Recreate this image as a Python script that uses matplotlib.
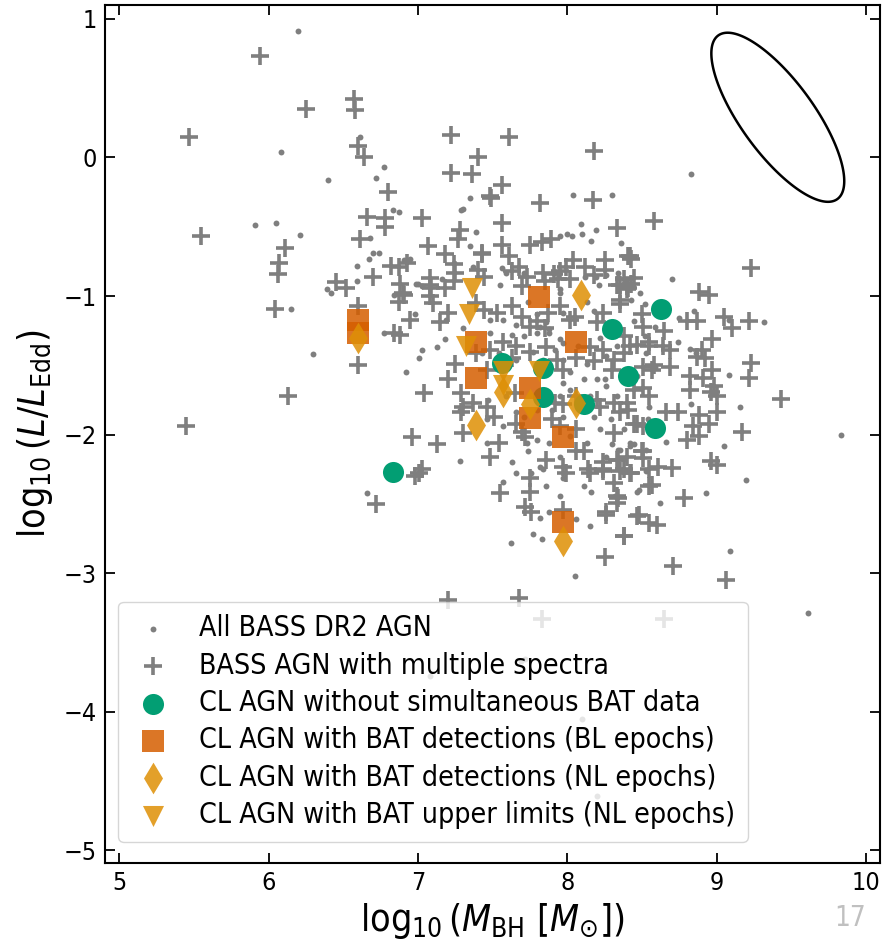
import numpy as np
import matplotlib.pyplot as plt
from matplotlib.patches import Polygon

plt.rcParams['font.family'] = ['DejaVu Sans']
plt.rcParams['font.stretch'] = 'condensed'
plt.rcParams['mathtext.fontset'] = 'custom'
plt.rcParams['mathtext.rm'] = 'DejaVu Sans:stretch=condensed'
plt.rcParams['mathtext.it'] = 'DejaVu Sans:italic:stretch=condensed'
plt.rcParams['mathtext.bf'] = 'DejaVu Sans:bold:stretch=condensed'

# all BASS DR2 AGN: (log M_BH, log L/L_Edd) pairs
dr2 = [
    (6.20, 0.91), (6.08, 0.04), (6.61, 0.15), (6.77, -0.07), (6.40, -0.16), (6.72, -0.15),
    (7.35, -0.29), (5.91, -0.49), (6.05, -0.47), (6.21, -0.56), (6.83, -0.38), (6.87, -0.39),
    (6.68, -0.58), (6.70, -0.69), (6.74, -0.69), (6.67, -0.73), (6.59, -0.78), (6.59, -0.89),
    (6.39, -0.95), (6.42, -0.98), (6.95, -0.73), (6.91, -0.74), (7.29, -0.38), (7.30, -0.37),
    (7.39, -0.54), (7.35, -0.64), (6.99, -0.91), (7.03, -0.93), (7.37, -0.79), (7.24, -0.76),
    (6.15, -1.09), (6.30, -1.42), (8.83, -0.12), (8.04, -0.27), (8.30, -0.27), (8.09, -0.48),
    (8.19, -0.52), (8.10, -0.55), (8.16, -0.60), (8.70, -0.88), (8.36, -0.62), (8.00, -0.55),
    (8.03, -0.57), (7.95, -0.57), (7.56, -0.80), (7.59, -0.83), (7.71, -0.83), (7.55, -0.92),
    (7.95, -0.95), (8.21, -0.92), (8.19, -0.86), (8.34, -0.83), (8.49, -0.98), (8.43, -1.03),
    (8.52, -1.06), (8.75, -1.16), (8.85, -1.11), (9.32, -1.19), (9.08, -1.17), (8.74, -1.33),
    (8.82, -1.38), (8.86, -1.41), (9.08, -1.57), (9.16, -1.80), (8.83, -1.78), (9.83, -2.00),
    (8.66, -2.05), (9.05, -2.08), (8.45, -2.07), (8.34, -2.11), (8.53, -2.26), (9.20, -2.33),
    (8.32, -2.44), (8.93, -2.42), (8.48, -2.40), (8.62, -2.49), (9.09, -2.84), (9.61, -3.29),
    (7.72, -3.62), (7.69, -3.63), (7.08, -3.74), (8.10, -4.05), (8.20, -4.61),
    (7.00, -0.91), (6.84, -0.99), (7.16, -0.88), (7.71, -0.85), (7.95, -0.98), (8.12, -0.86),
    (8.26, -0.85), (6.77, -1.27), (6.98, -1.13), (7.19, -1.17), (7.30, -1.23), (7.48, -1.17),
    (7.57, -1.17), (7.66, -1.21), (7.74, -1.04), (7.80, -1.13), (7.88, -1.24), (7.97, -1.12),
    (7.95, -1.31), (8.13, -1.04), (8.18, -1.11), (8.22, -1.30), (8.45, -1.18), (8.52, -1.29),
    (8.59, -1.22), (7.03, -1.39), (7.01, -1.45), (6.92, -1.55), (7.13, -1.37), (7.18, -1.31),
    (7.66, -1.46), (7.77, -1.40), (7.92, -1.39), (7.97, -1.63), (8.02, -1.55), (8.13, -1.49),
    (8.26, -1.43), (8.33, -1.36), (8.38, -1.58), (8.47, -1.58), (8.53, -1.41), (8.59, -1.51),
    (8.25, -1.60), (8.20, -1.60), (7.28, -1.82), (7.47, -1.75), (7.46, -1.89), (7.59, -1.72),
    (7.66, -1.84), (7.86, -1.75), (7.90, -1.82), (7.97, -1.87), (8.15, -1.72), (8.18, -1.87),
    (8.22, -1.96), (8.29, -1.89), (8.38, -1.96), (8.42, -2.06), (8.54, -1.89), (8.55, -1.80),
    (7.28, -2.19), (7.63, -2.20), (7.82, -2.23), (7.95, -2.16), (7.97, -2.31), (7.84, -2.25),
    (7.73, -2.06), (7.74, -2.12), (7.80, -2.04), (8.30, -2.07), (8.42, -2.08), (8.53, -2.11),
    (6.66, -2.42), (7.57, -2.34), (7.77, -2.72), (7.83, -2.75), (7.88, -2.56), (7.82, -2.60),
    (8.16, -2.41), (8.06, -2.61), (8.15, -2.66), (8.47, -2.41), (7.62, -2.78), (7.76, -2.28),
    (8.05, -3.02),
    (7.82, -1.22), (7.86, -1.19), (7.88, -1.27), (7.80, -1.27), (7.97, -1.34), (8.07, -1.36),
    (7.63, -1.28), (7.71, -1.29), (7.48, -1.27), (7.43, -1.41), (7.54, -1.41), (7.84, -1.46),
    (7.97, -1.46), (8.11, -1.60), (8.26, -1.65), (8.33, -1.72), (8.02, -1.68), (7.95, -1.72),
    (7.80, -1.82), (7.71, -1.87), (7.57, -1.94), (7.46, -2.06), (7.88, -2.06), (8.02, -2.01),
    (8.13, -2.06), (8.26, -2.16), (8.35, -2.11), (8.11, -2.37), (7.95, -2.44), (7.86, -2.37),
    (7.66, -2.28),
]

# BASS AGN with multiple spectra
multi = [
    (5.94, 0.73), (6.25, 0.35), (6.57, 0.42), (6.58, 0.34), (5.47, 0.15), (6.60, 0.08),
    (6.64, 0.00), (6.80, -0.25), (7.22, 0.16), (7.40, 0.00), (7.22, -0.11), (7.36, -0.12),
    (7.48, -0.28), (5.55, -0.57), (6.11, -0.65), (6.07, -0.76), (6.06, -0.84), (6.66, -0.43),
    (6.78, -0.44), (6.78, -0.50), (7.03, -0.44), (6.61, -0.59), (6.70, -0.86), (6.45, -0.90),
    (6.52, -0.94), (6.82, -0.78), (6.87, -0.79), (6.93, -0.76), (7.07, -0.64), (7.18, -0.70),
    (7.24, -0.77), (7.28, -0.52), (7.27, -0.59), (7.43, -0.69), (6.88, -0.91), (6.90, -0.98),
    (7.08, -0.87), (7.09, -0.94), (7.18, -0.94), (7.40, -0.81), (7.25, -0.83), (6.04, -1.09),
    (6.60, -1.07), (6.60, -1.50), (6.13, -1.72), (5.45, -1.94), (7.61, 0.15), (8.18, 0.05),
    (7.56, -0.20), (7.49, -0.29), (7.82, -0.33), (8.17, -0.31), (8.58, -0.46), (7.56, -0.47),
    (8.33, -0.51), (9.23, -0.80), (8.88, -0.97), (8.95, -0.99), (7.56, -0.63), (7.75, -0.63),
    (7.83, -0.61), (7.89, -0.59), (8.41, -0.71), (8.43, -0.73), (8.25, -0.74), (8.25, -0.81),
    (8.04, -0.74), (7.99, -0.79), (8.12, -0.79), (7.91, -0.84), (7.94, -0.88), (7.43, -0.70),
    (7.61, -0.71), (7.68, -0.79), (7.70, -0.93), (7.85, -0.89), (8.35, -0.92), (8.40, -0.93),
    (8.45, -0.87), (8.42, -0.71), (8.35, -1.06), (8.80, -1.18), (8.87, -1.18), (9.05, -1.15),
    (9.10, -1.23), (9.22, -1.18), (8.51, -1.22), (8.65, -1.25), (8.47, -1.35), (8.55, -1.36),
    (8.64, -1.36), (8.69, -1.39), (8.97, -1.31), (8.90, -1.39), (8.87, -1.44), (8.92, -1.45),
    (9.23, -1.48), (9.22, -1.59), (8.58, -1.50), (8.69, -1.51), (8.82, -1.58), (8.91, -1.59),
    (8.97, -1.53), (8.82, -1.68), (8.96, -1.69), (9.00, -1.72), (8.98, -1.65), (9.43, -1.74),
    (8.66, -1.84), (8.74, -1.84), (8.88, -1.86), (9.00, -1.84), (8.95, -1.92), (9.17, -1.98),
    (8.47, -1.92), (8.40, -1.77), (8.31, -1.99), (8.84, -1.94), (8.88, -2.01), (8.80, -2.04),
    (8.51, -2.12), (8.40, -2.16), (8.34, -2.18), (8.51, -2.17), (8.24, -2.25), (8.35, -2.26),
    (8.43, -2.28), (8.61, -2.23), (8.70, -2.24), (8.96, -2.19), (9.00, -2.22), (8.31, -2.35),
    (8.57, -2.36), (8.34, -2.46), (8.78, -2.46), (8.26, -2.56), (8.48, -2.58), (8.60, -2.65),
    (8.38, -2.73), (8.25, -2.88), (8.71, -2.95), (9.06, -3.05), (7.68, -3.18), (8.65, -3.33),
    (7.20, -3.19), (7.83, -3.33),
    (6.91, -0.99), (6.87, -1.04), (7.08, -0.92), (7.24, -0.89), (7.44, -0.86), (7.63, -0.82),
    (7.73, -0.86), (7.84, -0.83), (7.95, -0.82), (8.02, -0.88), (8.18, -0.85), (8.33, -0.92),
    (8.38, -0.88), (8.43, -0.91), (8.41, -0.94), (6.84, -1.27), (6.88, -1.28), (6.95, -1.17),
    (7.08, -1.00), (7.10, -1.05), (7.15, -1.19), (7.20, -1.12), (7.39, -1.05), (7.44, -1.10),
    (7.53, -1.12), (7.63, -1.07), (7.70, -1.15), (7.75, -1.22), (7.80, -1.18), (7.85, -1.23),
    (7.87, -1.12), (7.95, -1.07), (8.02, -1.17), (8.05, -1.15), (8.20, -1.19), (8.24, -1.12),
    (8.35, -1.03), (8.40, -0.95), (8.50, -1.13), (8.55, -1.33), (8.38, -1.29), (8.42, -1.36),
    (7.20, -1.60), (7.25, -1.49), (7.39, -1.41), (7.46, -1.53), (7.48, -1.39), (7.57, -1.33),
    (7.63, -1.45), (7.66, -1.36), (7.75, -1.40), (7.86, -1.37), (7.93, -1.46), (7.97, -1.53),
    (8.06, -1.45), (8.15, -1.37), (8.18, -1.47), (8.24, -1.39), (8.31, -1.46), (8.30, -1.53),
    (8.38, -1.41), (8.51, -1.51), (8.51, -1.66), (8.57, -1.53), (8.45, -1.68), (8.55, -1.72),
    (7.04, -1.70), (7.29, -1.70), (7.30, -1.80), (7.29, -1.84), (7.37, -1.77), (7.46, -1.80),
    (7.51, -1.87), (7.65, -1.70), (7.66, -1.92), (7.72, -2.02), (7.70, -1.98), (7.92, -1.77),
    (7.97, -1.78), (8.06, -1.72), (8.06, -1.96), (8.20, -1.75), (8.22, -1.80), (8.31, -1.77),
    (8.35, -1.84), (8.41, -1.82), (8.45, -1.92), (8.51, -1.94), (7.95, -1.94), (7.90, -1.89),
    (6.96, -2.02), (7.13, -2.07), (7.30, -1.99), (7.48, -2.16), (7.54, -2.06), (7.75, -2.31),
    (7.86, -2.18), (7.97, -2.23), (7.99, -2.28), (8.11, -2.12), (8.14, -2.25), (8.24, -2.26),
    (8.33, -2.18), (8.38, -2.25), (8.42, -2.28), (8.50, -2.12), (8.55, -2.25), (8.06, -2.12),
    (6.72, -2.50), (7.55, -2.42), (7.75, -2.41), (7.72, -2.52), (7.76, -2.56), (7.97, -2.54),
    (8.15, -2.28), (8.24, -2.20), (8.26, -2.58), (8.38, -2.73), (8.47, -2.59), (8.33, -2.44),
    (8.33, -2.49), (8.55, -2.37), (8.55, -2.64), (6.98, -2.30), (7.01, -2.28), (7.03, -2.25),
]

# changing-look AGN
cl_nobat_mbh = [6.83, 7.56, 7.84, 7.84, 8.11, 8.30, 8.41, 8.59, 8.63]
cl_nobat_edd = [-2.27, -1.48, -1.52, -1.73, -1.78, -1.24, -1.58, -1.95, -1.09]

cl_bl_mbh = [6.60, 6.60, 7.39, 7.39, 7.81, 8.06, 7.75, 7.75, 7.97, 7.97]
cl_bl_edd = [-1.17, -1.27, -1.33, -1.59, -1.01, -1.33, -1.66, -1.88, -2.02, -2.63]

cl_nl_mbh = [6.60, 8.09, 7.39, 7.75, 8.06, 7.57, 7.97]
cl_nl_edd = [-1.30, -0.99, -1.93, -1.78, -1.77, -1.69, -2.77]

cl_ul_mbh = [7.36, 7.34, 7.32, 7.57, 7.57, 7.81]
cl_ul_edd = [-0.94, -1.13, -1.36, -1.54, -1.64, -1.54]

# typical uncertainty ellipse
ell_center = (9.41, 0.29)
ell_sig_mbh, ell_sig_edd, ell_rho = 0.445, 0.61, -0.755

dr2 = np.array(dr2)
multi = np.array(multi)

fig = plt.figure(figsize=(8.83, 9.42), dpi=100)
ax = fig.add_axes([0.119, 0.0839, 0.8777, 0.9108])

grey = '#7f7f7f'
ax.scatter(dr2[:, 0], dr2[:, 1], s=18, color=grey, lw=0, label='All BASS DR2 AGN', zorder=2)
ax.scatter(multi[:, 0], multi[:, 1], s=150, marker='+', color=grey, linewidths=2.6,
           label='BASS AGN with multiple spectra', zorder=2)
ax.scatter(cl_nobat_mbh, cl_nobat_edd, s=230, marker='o', color='#029E73', lw=0,
           label='CL AGN without simultaneous BAT data', zorder=3)
ax.scatter(cl_bl_mbh, cl_bl_edd, s=230, marker='s', color='#D55E00', alpha=0.85, lw=0,
           label='CL AGN with BAT detections (BL epochs)', zorder=4)
ax.scatter(cl_nl_mbh, cl_nl_edd, s=260, marker='d', color='#DE8F05', alpha=0.85, lw=0,
           label='CL AGN with BAT detections (NL epochs)', zorder=5)
ax.scatter(cl_ul_mbh, cl_ul_edd, s=230, marker='v', color='#DE8F05', alpha=0.85, lw=0,
           label='CL AGN with BAT upper limits (NL epochs)', zorder=5)

# 1-sigma covariance ellipse
cov = np.array([[ell_sig_mbh**2, ell_rho * ell_sig_mbh * ell_sig_edd],
                [ell_rho * ell_sig_mbh * ell_sig_edd, ell_sig_edd**2]])
vals, vecs = np.linalg.eigh(cov)
t = np.linspace(0, 2 * np.pi, 200)
circ = np.vstack([np.cos(t), np.sin(t)])
pts = (vecs @ np.diag(np.sqrt(vals)) @ circ).T + np.array(ell_center)
ax.add_patch(Polygon(pts, closed=True, fill=False, ec='k', lw=1.8, zorder=6))

ax.set_xlim(4.905, 10.095)
ax.set_ylim(-5.09, 1.10)
ax.set_xticks([5, 6, 7, 8, 9, 10])
ax.set_yticks([-5, -4, -3, -2, -1, 0, 1])
ax.tick_params(direction='in', top=True, right=True, labelsize=18, length=7, width=1.3, pad=6)
for sp in ax.spines.values():
    sp.set_linewidth(1.5)

ax.set_xlabel(r'$\log_{10}(M_{\rm BH}\ [M_{\odot}])$', fontsize=27, labelpad=4)
ax.set_ylabel(r'$\log_{10}(L/L_{\rm Edd})$', fontsize=27, labelpad=6)

ax.legend(loc='lower left', bbox_to_anchor=(0.0168, 0.0245), borderaxespad=0,
          fontsize=20.4, handlelength=1.55, handletextpad=0.85, borderpad=0.45,
          labelspacing=0.33, framealpha=0.8)

fig.text(0.963, 0.025, '17', fontsize=20, color='#c0c0c0', ha='center', va='center')

fig.savefig('out.png', dpi=100)
